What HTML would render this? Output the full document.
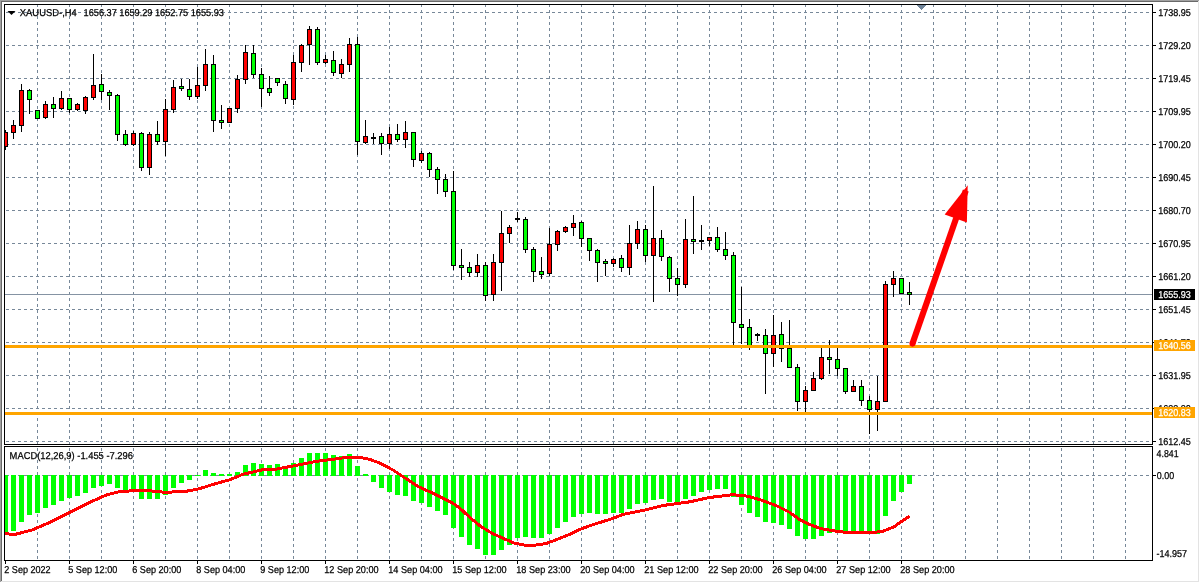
<!DOCTYPE html>
<html><head><meta charset="utf-8"><title>XAUUSD H4</title>
<style>html,body{margin:0;padding:0;background:#fff;overflow:hidden}svg{display:block}text{font-family:"Liberation Sans",sans-serif;font-size:10px;text-rendering:geometricPrecision;fill:#000;stroke:#000;stroke-width:.25px;white-space:pre}.c{shape-rendering:crispEdges}</style></head><body>
<svg width="1200" height="583" viewBox="0 0 1200 583">
<g class="c">
<rect x="0" y="0" width="1200" height="583" fill="#fff"/>
<rect x="0" y="0" width="1199" height="1" fill="#a0a0a0"/>
<rect x="0" y="0" width="1" height="582" fill="#a0a0a0"/>
<rect x="1" y="1" width="1197" height="1" fill="#696969"/>
<rect x="1" y="1" width="1" height="580" fill="#696969"/>
<rect x="1198" y="1" width="1" height="581" fill="#e3e3e3"/>
<rect x="1" y="581" width="1198" height="1" fill="#e3e3e3"/>
<line x1="37.5" y1="5" x2="37.5" y2="444" stroke="#778899" stroke-dasharray="3 3" stroke-dashoffset="1"/>
<line x1="37.5" y1="447" x2="37.5" y2="560" stroke="#778899" stroke-dasharray="3 3" stroke-dashoffset="5"/>
<line x1="69.5" y1="5" x2="69.5" y2="444" stroke="#778899" stroke-dasharray="3 3" stroke-dashoffset="1"/>
<line x1="69.5" y1="447" x2="69.5" y2="560" stroke="#778899" stroke-dasharray="3 3" stroke-dashoffset="5"/>
<line x1="101.5" y1="5" x2="101.5" y2="444" stroke="#778899" stroke-dasharray="3 3" stroke-dashoffset="1"/>
<line x1="101.5" y1="447" x2="101.5" y2="560" stroke="#778899" stroke-dasharray="3 3" stroke-dashoffset="5"/>
<line x1="133.5" y1="5" x2="133.5" y2="444" stroke="#778899" stroke-dasharray="3 3" stroke-dashoffset="1"/>
<line x1="133.5" y1="447" x2="133.5" y2="560" stroke="#778899" stroke-dasharray="3 3" stroke-dashoffset="5"/>
<line x1="165.5" y1="5" x2="165.5" y2="444" stroke="#778899" stroke-dasharray="3 3" stroke-dashoffset="1"/>
<line x1="165.5" y1="447" x2="165.5" y2="560" stroke="#778899" stroke-dasharray="3 3" stroke-dashoffset="5"/>
<line x1="197.5" y1="5" x2="197.5" y2="444" stroke="#778899" stroke-dasharray="3 3" stroke-dashoffset="1"/>
<line x1="197.5" y1="447" x2="197.5" y2="560" stroke="#778899" stroke-dasharray="3 3" stroke-dashoffset="5"/>
<line x1="229.5" y1="5" x2="229.5" y2="444" stroke="#778899" stroke-dasharray="3 3" stroke-dashoffset="1"/>
<line x1="229.5" y1="447" x2="229.5" y2="560" stroke="#778899" stroke-dasharray="3 3" stroke-dashoffset="5"/>
<line x1="261.5" y1="5" x2="261.5" y2="444" stroke="#778899" stroke-dasharray="3 3" stroke-dashoffset="1"/>
<line x1="261.5" y1="447" x2="261.5" y2="560" stroke="#778899" stroke-dasharray="3 3" stroke-dashoffset="5"/>
<line x1="293.5" y1="5" x2="293.5" y2="444" stroke="#778899" stroke-dasharray="3 3" stroke-dashoffset="1"/>
<line x1="293.5" y1="447" x2="293.5" y2="560" stroke="#778899" stroke-dasharray="3 3" stroke-dashoffset="5"/>
<line x1="325.5" y1="5" x2="325.5" y2="444" stroke="#778899" stroke-dasharray="3 3" stroke-dashoffset="1"/>
<line x1="325.5" y1="447" x2="325.5" y2="560" stroke="#778899" stroke-dasharray="3 3" stroke-dashoffset="5"/>
<line x1="357.5" y1="5" x2="357.5" y2="444" stroke="#778899" stroke-dasharray="3 3" stroke-dashoffset="1"/>
<line x1="357.5" y1="447" x2="357.5" y2="560" stroke="#778899" stroke-dasharray="3 3" stroke-dashoffset="5"/>
<line x1="389.5" y1="5" x2="389.5" y2="444" stroke="#778899" stroke-dasharray="3 3" stroke-dashoffset="1"/>
<line x1="389.5" y1="447" x2="389.5" y2="560" stroke="#778899" stroke-dasharray="3 3" stroke-dashoffset="5"/>
<line x1="421.5" y1="5" x2="421.5" y2="444" stroke="#778899" stroke-dasharray="3 3" stroke-dashoffset="1"/>
<line x1="421.5" y1="447" x2="421.5" y2="560" stroke="#778899" stroke-dasharray="3 3" stroke-dashoffset="5"/>
<line x1="453.5" y1="5" x2="453.5" y2="444" stroke="#778899" stroke-dasharray="3 3" stroke-dashoffset="1"/>
<line x1="453.5" y1="447" x2="453.5" y2="560" stroke="#778899" stroke-dasharray="3 3" stroke-dashoffset="5"/>
<line x1="485.5" y1="5" x2="485.5" y2="444" stroke="#778899" stroke-dasharray="3 3" stroke-dashoffset="1"/>
<line x1="485.5" y1="447" x2="485.5" y2="560" stroke="#778899" stroke-dasharray="3 3" stroke-dashoffset="5"/>
<line x1="517.5" y1="5" x2="517.5" y2="444" stroke="#778899" stroke-dasharray="3 3" stroke-dashoffset="1"/>
<line x1="517.5" y1="447" x2="517.5" y2="560" stroke="#778899" stroke-dasharray="3 3" stroke-dashoffset="5"/>
<line x1="549.5" y1="5" x2="549.5" y2="444" stroke="#778899" stroke-dasharray="3 3" stroke-dashoffset="1"/>
<line x1="549.5" y1="447" x2="549.5" y2="560" stroke="#778899" stroke-dasharray="3 3" stroke-dashoffset="5"/>
<line x1="581.5" y1="5" x2="581.5" y2="444" stroke="#778899" stroke-dasharray="3 3" stroke-dashoffset="1"/>
<line x1="581.5" y1="447" x2="581.5" y2="560" stroke="#778899" stroke-dasharray="3 3" stroke-dashoffset="5"/>
<line x1="613.5" y1="5" x2="613.5" y2="444" stroke="#778899" stroke-dasharray="3 3" stroke-dashoffset="1"/>
<line x1="613.5" y1="447" x2="613.5" y2="560" stroke="#778899" stroke-dasharray="3 3" stroke-dashoffset="5"/>
<line x1="645.5" y1="5" x2="645.5" y2="444" stroke="#778899" stroke-dasharray="3 3" stroke-dashoffset="1"/>
<line x1="645.5" y1="447" x2="645.5" y2="560" stroke="#778899" stroke-dasharray="3 3" stroke-dashoffset="5"/>
<line x1="677.5" y1="5" x2="677.5" y2="444" stroke="#778899" stroke-dasharray="3 3" stroke-dashoffset="1"/>
<line x1="677.5" y1="447" x2="677.5" y2="560" stroke="#778899" stroke-dasharray="3 3" stroke-dashoffset="5"/>
<line x1="709.5" y1="5" x2="709.5" y2="444" stroke="#778899" stroke-dasharray="3 3" stroke-dashoffset="1"/>
<line x1="709.5" y1="447" x2="709.5" y2="560" stroke="#778899" stroke-dasharray="3 3" stroke-dashoffset="5"/>
<line x1="741.5" y1="5" x2="741.5" y2="444" stroke="#778899" stroke-dasharray="3 3" stroke-dashoffset="1"/>
<line x1="741.5" y1="447" x2="741.5" y2="560" stroke="#778899" stroke-dasharray="3 3" stroke-dashoffset="5"/>
<line x1="773.5" y1="5" x2="773.5" y2="444" stroke="#778899" stroke-dasharray="3 3" stroke-dashoffset="1"/>
<line x1="773.5" y1="447" x2="773.5" y2="560" stroke="#778899" stroke-dasharray="3 3" stroke-dashoffset="5"/>
<line x1="805.5" y1="5" x2="805.5" y2="444" stroke="#778899" stroke-dasharray="3 3" stroke-dashoffset="1"/>
<line x1="805.5" y1="447" x2="805.5" y2="560" stroke="#778899" stroke-dasharray="3 3" stroke-dashoffset="5"/>
<line x1="837.5" y1="5" x2="837.5" y2="444" stroke="#778899" stroke-dasharray="3 3" stroke-dashoffset="1"/>
<line x1="837.5" y1="447" x2="837.5" y2="560" stroke="#778899" stroke-dasharray="3 3" stroke-dashoffset="5"/>
<line x1="869.5" y1="5" x2="869.5" y2="444" stroke="#778899" stroke-dasharray="3 3" stroke-dashoffset="1"/>
<line x1="869.5" y1="447" x2="869.5" y2="560" stroke="#778899" stroke-dasharray="3 3" stroke-dashoffset="5"/>
<line x1="901.5" y1="5" x2="901.5" y2="444" stroke="#778899" stroke-dasharray="3 3" stroke-dashoffset="1"/>
<line x1="901.5" y1="447" x2="901.5" y2="560" stroke="#778899" stroke-dasharray="3 3" stroke-dashoffset="5"/>
<line x1="933.5" y1="5" x2="933.5" y2="444" stroke="#778899" stroke-dasharray="3 3" stroke-dashoffset="1"/>
<line x1="933.5" y1="447" x2="933.5" y2="560" stroke="#778899" stroke-dasharray="3 3" stroke-dashoffset="5"/>
<line x1="965.5" y1="5" x2="965.5" y2="444" stroke="#778899" stroke-dasharray="3 3" stroke-dashoffset="1"/>
<line x1="965.5" y1="447" x2="965.5" y2="560" stroke="#778899" stroke-dasharray="3 3" stroke-dashoffset="5"/>
<line x1="997.5" y1="5" x2="997.5" y2="444" stroke="#778899" stroke-dasharray="3 3" stroke-dashoffset="1"/>
<line x1="997.5" y1="447" x2="997.5" y2="560" stroke="#778899" stroke-dasharray="3 3" stroke-dashoffset="5"/>
<line x1="1029.5" y1="5" x2="1029.5" y2="444" stroke="#778899" stroke-dasharray="3 3" stroke-dashoffset="1"/>
<line x1="1029.5" y1="447" x2="1029.5" y2="560" stroke="#778899" stroke-dasharray="3 3" stroke-dashoffset="5"/>
<line x1="1061.5" y1="5" x2="1061.5" y2="444" stroke="#778899" stroke-dasharray="3 3" stroke-dashoffset="1"/>
<line x1="1061.5" y1="447" x2="1061.5" y2="560" stroke="#778899" stroke-dasharray="3 3" stroke-dashoffset="5"/>
<line x1="1093.5" y1="5" x2="1093.5" y2="444" stroke="#778899" stroke-dasharray="3 3" stroke-dashoffset="1"/>
<line x1="1093.5" y1="447" x2="1093.5" y2="560" stroke="#778899" stroke-dasharray="3 3" stroke-dashoffset="5"/>
<line x1="1125.5" y1="5" x2="1125.5" y2="444" stroke="#778899" stroke-dasharray="3 3" stroke-dashoffset="1"/>
<line x1="1125.5" y1="447" x2="1125.5" y2="560" stroke="#778899" stroke-dasharray="3 3" stroke-dashoffset="5"/>
<line x1="5" y1="12.5" x2="1150" y2="12.5" stroke="#778899" stroke-dasharray="3 3" stroke-dashoffset="5"/>
<line x1="5" y1="45.5" x2="1150" y2="45.5" stroke="#778899" stroke-dasharray="3 3" stroke-dashoffset="5"/>
<line x1="5" y1="78.5" x2="1150" y2="78.5" stroke="#778899" stroke-dasharray="3 3" stroke-dashoffset="5"/>
<line x1="5" y1="111.5" x2="1150" y2="111.5" stroke="#778899" stroke-dasharray="3 3" stroke-dashoffset="5"/>
<line x1="5" y1="144.5" x2="1150" y2="144.5" stroke="#778899" stroke-dasharray="3 3" stroke-dashoffset="5"/>
<line x1="5" y1="177.5" x2="1150" y2="177.5" stroke="#778899" stroke-dasharray="3 3" stroke-dashoffset="5"/>
<line x1="5" y1="210.5" x2="1150" y2="210.5" stroke="#778899" stroke-dasharray="3 3" stroke-dashoffset="5"/>
<line x1="5" y1="243.5" x2="1150" y2="243.5" stroke="#778899" stroke-dasharray="3 3" stroke-dashoffset="5"/>
<line x1="5" y1="276.5" x2="1150" y2="276.5" stroke="#778899" stroke-dasharray="3 3" stroke-dashoffset="5"/>
<line x1="5" y1="309.5" x2="1150" y2="309.5" stroke="#778899" stroke-dasharray="3 3" stroke-dashoffset="5"/>
<line x1="5" y1="342.5" x2="1150" y2="342.5" stroke="#778899" stroke-dasharray="3 3" stroke-dashoffset="5"/>
<line x1="5" y1="375.5" x2="1150" y2="375.5" stroke="#778899" stroke-dasharray="3 3" stroke-dashoffset="5"/>
<line x1="5" y1="408.5" x2="1150" y2="408.5" stroke="#778899" stroke-dasharray="3 3" stroke-dashoffset="5"/>
<line x1="5" y1="441.5" x2="1150" y2="441.5" stroke="#778899" stroke-dasharray="3 3" stroke-dashoffset="5"/>
<line x1="5" y1="475.5" x2="1150" y2="475.5" stroke="#778899" stroke-dasharray="3 3" stroke-dashoffset="5"/>
<rect x="5" y="294" width="1147" height="1" fill="#8593a3"/>
</g>
<g class="c">
<rect x="5" y="130" width="1" height="20" fill="#000"/>
<rect x="3" y="132" width="5" height="15" fill="#000"/>
<rect x="4" y="133" width="3" height="13" fill="#ff0000"/>
<rect x="13" y="120" width="1" height="19" fill="#000"/>
<rect x="11" y="125" width="5" height="8" fill="#000"/>
<rect x="12" y="126" width="3" height="6" fill="#ff0000"/>
<rect x="21" y="84" width="1" height="48" fill="#000"/>
<rect x="19" y="90" width="5" height="36" fill="#000"/>
<rect x="20" y="91" width="3" height="34" fill="#ff0000"/>
<rect x="29" y="89" width="1" height="25" fill="#000"/>
<rect x="27" y="90" width="5" height="10" fill="#000"/>
<rect x="28" y="91" width="3" height="8" fill="#00ff00"/>
<rect x="37" y="110" width="1" height="9" fill="#000"/>
<rect x="35" y="110" width="5" height="9" fill="#000"/>
<rect x="36" y="111" width="3" height="7" fill="#00ff00"/>
<rect x="45" y="101" width="1" height="18" fill="#000"/>
<rect x="43" y="104" width="5" height="14" fill="#000"/>
<rect x="44" y="105" width="3" height="12" fill="#ff0000"/>
<rect x="53" y="97" width="1" height="21" fill="#000"/>
<rect x="51" y="104" width="5" height="5" fill="#000"/>
<rect x="52" y="105" width="3" height="3" fill="#00ff00"/>
<rect x="61" y="91" width="1" height="19" fill="#000"/>
<rect x="59" y="98" width="5" height="11" fill="#000"/>
<rect x="60" y="99" width="3" height="9" fill="#ff0000"/>
<rect x="69" y="98" width="1" height="15" fill="#000"/>
<rect x="67" y="98" width="5" height="12" fill="#000"/>
<rect x="68" y="99" width="3" height="10" fill="#00ff00"/>
<rect x="77" y="103" width="1" height="8" fill="#000"/>
<rect x="75" y="104" width="5" height="6" fill="#000"/>
<rect x="76" y="105" width="3" height="4" fill="#ff0000"/>
<rect x="85" y="96" width="1" height="18" fill="#000"/>
<rect x="83" y="97" width="5" height="14" fill="#000"/>
<rect x="84" y="98" width="3" height="12" fill="#ff0000"/>
<rect x="93" y="54" width="1" height="46" fill="#000"/>
<rect x="91" y="85" width="5" height="13" fill="#000"/>
<rect x="92" y="86" width="3" height="11" fill="#ff0000"/>
<rect x="101" y="74" width="1" height="26" fill="#000"/>
<rect x="99" y="84" width="5" height="8" fill="#000"/>
<rect x="100" y="85" width="3" height="6" fill="#00ff00"/>
<rect x="109" y="90" width="1" height="20" fill="#000"/>
<rect x="107" y="92" width="5" height="4" fill="#000"/>
<rect x="108" y="93" width="3" height="2" fill="#00ff00"/>
<rect x="117" y="94" width="1" height="47" fill="#000"/>
<rect x="115" y="95" width="5" height="40" fill="#000"/>
<rect x="116" y="96" width="3" height="38" fill="#00ff00"/>
<rect x="125" y="130" width="1" height="16" fill="#000"/>
<rect x="123" y="134" width="5" height="11" fill="#000"/>
<rect x="124" y="135" width="3" height="9" fill="#00ff00"/>
<rect x="133" y="131" width="1" height="15" fill="#000"/>
<rect x="131" y="133" width="5" height="12" fill="#000"/>
<rect x="132" y="134" width="3" height="10" fill="#ff0000"/>
<rect x="141" y="132" width="1" height="39" fill="#000"/>
<rect x="139" y="133" width="5" height="35" fill="#000"/>
<rect x="140" y="134" width="3" height="33" fill="#00ff00"/>
<rect x="149" y="132" width="1" height="43" fill="#000"/>
<rect x="147" y="134" width="5" height="34" fill="#000"/>
<rect x="148" y="135" width="3" height="32" fill="#ff0000"/>
<rect x="157" y="121" width="1" height="24" fill="#000"/>
<rect x="155" y="134" width="5" height="8" fill="#000"/>
<rect x="156" y="135" width="3" height="6" fill="#00ff00"/>
<rect x="165" y="99" width="1" height="57" fill="#000"/>
<rect x="163" y="109" width="5" height="33" fill="#000"/>
<rect x="164" y="110" width="3" height="31" fill="#ff0000"/>
<rect x="173" y="80" width="1" height="33" fill="#000"/>
<rect x="171" y="87" width="5" height="23" fill="#000"/>
<rect x="172" y="88" width="3" height="21" fill="#ff0000"/>
<rect x="181" y="79" width="1" height="12" fill="#000"/>
<rect x="179" y="86" width="5" height="3" fill="#000"/>
<rect x="180" y="87" width="3" height="1" fill="#00ff00"/>
<rect x="189" y="79" width="1" height="21" fill="#000"/>
<rect x="187" y="89" width="5" height="8" fill="#000"/>
<rect x="188" y="90" width="3" height="6" fill="#00ff00"/>
<rect x="197" y="67" width="1" height="32" fill="#000"/>
<rect x="195" y="85" width="5" height="12" fill="#000"/>
<rect x="196" y="86" width="3" height="10" fill="#ff0000"/>
<rect x="205" y="49" width="1" height="42" fill="#000"/>
<rect x="203" y="64" width="5" height="22" fill="#000"/>
<rect x="204" y="65" width="3" height="20" fill="#ff0000"/>
<rect x="213" y="55" width="1" height="77" fill="#000"/>
<rect x="211" y="64" width="5" height="57" fill="#000"/>
<rect x="212" y="65" width="3" height="55" fill="#00ff00"/>
<rect x="221" y="105" width="1" height="24" fill="#000"/>
<rect x="219" y="120" width="5" height="3" fill="#000"/>
<rect x="220" y="121" width="3" height="1" fill="#00ff00"/>
<rect x="229" y="108" width="1" height="15" fill="#000"/>
<rect x="227" y="108" width="5" height="15" fill="#000"/>
<rect x="228" y="109" width="3" height="13" fill="#ff0000"/>
<rect x="237" y="75" width="1" height="38" fill="#000"/>
<rect x="235" y="79" width="5" height="30" fill="#000"/>
<rect x="236" y="80" width="3" height="28" fill="#ff0000"/>
<rect x="245" y="45" width="1" height="39" fill="#000"/>
<rect x="243" y="52" width="5" height="28" fill="#000"/>
<rect x="244" y="53" width="3" height="26" fill="#ff0000"/>
<rect x="253" y="45" width="1" height="33" fill="#000"/>
<rect x="251" y="53" width="5" height="22" fill="#000"/>
<rect x="252" y="54" width="3" height="20" fill="#00ff00"/>
<rect x="261" y="68" width="1" height="39" fill="#000"/>
<rect x="259" y="74" width="5" height="15" fill="#000"/>
<rect x="260" y="75" width="3" height="13" fill="#00ff00"/>
<rect x="269" y="76" width="1" height="20" fill="#000"/>
<rect x="267" y="88" width="5" height="5" fill="#000"/>
<rect x="268" y="89" width="3" height="3" fill="#00ff00"/>
<rect x="277" y="78" width="1" height="8" fill="#000"/>
<rect x="275" y="78" width="5" height="5" fill="#000"/>
<rect x="276" y="79" width="3" height="3" fill="#00ff00"/>
<rect x="285" y="81" width="1" height="23" fill="#000"/>
<rect x="283" y="84" width="5" height="15" fill="#000"/>
<rect x="284" y="85" width="3" height="13" fill="#00ff00"/>
<rect x="293" y="55" width="1" height="50" fill="#000"/>
<rect x="291" y="62" width="5" height="38" fill="#000"/>
<rect x="292" y="63" width="3" height="36" fill="#ff0000"/>
<rect x="301" y="44" width="1" height="28" fill="#000"/>
<rect x="299" y="45" width="5" height="18" fill="#000"/>
<rect x="300" y="46" width="3" height="16" fill="#ff0000"/>
<rect x="309" y="26" width="1" height="39" fill="#000"/>
<rect x="307" y="29" width="5" height="16" fill="#000"/>
<rect x="308" y="30" width="3" height="14" fill="#ff0000"/>
<rect x="317" y="27" width="1" height="38" fill="#000"/>
<rect x="315" y="29" width="5" height="34" fill="#000"/>
<rect x="316" y="30" width="3" height="32" fill="#00ff00"/>
<rect x="325" y="55" width="1" height="9" fill="#000"/>
<rect x="323" y="59" width="5" height="4" fill="#000"/>
<rect x="324" y="60" width="3" height="2" fill="#ff0000"/>
<rect x="333" y="51" width="1" height="25" fill="#000"/>
<rect x="331" y="60" width="5" height="13" fill="#000"/>
<rect x="332" y="61" width="3" height="11" fill="#00ff00"/>
<rect x="341" y="59" width="1" height="19" fill="#000"/>
<rect x="339" y="64" width="5" height="10" fill="#000"/>
<rect x="340" y="65" width="3" height="8" fill="#ff0000"/>
<rect x="349" y="38" width="1" height="34" fill="#000"/>
<rect x="347" y="44" width="5" height="21" fill="#000"/>
<rect x="348" y="45" width="3" height="19" fill="#ff0000"/>
<rect x="357" y="37" width="1" height="118" fill="#000"/>
<rect x="355" y="44" width="5" height="98" fill="#000"/>
<rect x="356" y="45" width="3" height="96" fill="#00ff00"/>
<rect x="365" y="120" width="1" height="24" fill="#000"/>
<rect x="363" y="136" width="5" height="7" fill="#000"/>
<rect x="364" y="137" width="3" height="5" fill="#ff0000"/>
<rect x="373" y="133" width="1" height="11" fill="#000"/>
<rect x="371" y="137" width="5" height="2" fill="#000"/>
<rect x="381" y="133" width="1" height="22" fill="#000"/>
<rect x="379" y="136" width="5" height="8" fill="#000"/>
<rect x="380" y="137" width="3" height="6" fill="#00ff00"/>
<rect x="389" y="127" width="1" height="22" fill="#000"/>
<rect x="387" y="134" width="5" height="10" fill="#000"/>
<rect x="388" y="135" width="3" height="8" fill="#ff0000"/>
<rect x="397" y="124" width="1" height="18" fill="#000"/>
<rect x="395" y="134" width="5" height="6" fill="#000"/>
<rect x="396" y="135" width="3" height="4" fill="#00ff00"/>
<rect x="405" y="121" width="1" height="27" fill="#000"/>
<rect x="403" y="132" width="5" height="8" fill="#000"/>
<rect x="404" y="133" width="3" height="6" fill="#ff0000"/>
<rect x="413" y="132" width="1" height="35" fill="#000"/>
<rect x="411" y="132" width="5" height="28" fill="#000"/>
<rect x="412" y="133" width="3" height="26" fill="#00ff00"/>
<rect x="421" y="151" width="1" height="12" fill="#000"/>
<rect x="419" y="153" width="5" height="8" fill="#000"/>
<rect x="420" y="154" width="3" height="6" fill="#ff0000"/>
<rect x="429" y="152" width="1" height="25" fill="#000"/>
<rect x="427" y="153" width="5" height="17" fill="#000"/>
<rect x="428" y="154" width="3" height="15" fill="#00ff00"/>
<rect x="437" y="167" width="1" height="27" fill="#000"/>
<rect x="435" y="169" width="5" height="11" fill="#000"/>
<rect x="436" y="170" width="3" height="9" fill="#00ff00"/>
<rect x="445" y="174" width="1" height="23" fill="#000"/>
<rect x="443" y="179" width="5" height="13" fill="#000"/>
<rect x="444" y="180" width="3" height="11" fill="#00ff00"/>
<rect x="453" y="171" width="1" height="99" fill="#000"/>
<rect x="451" y="191" width="5" height="75" fill="#000"/>
<rect x="452" y="192" width="3" height="73" fill="#00ff00"/>
<rect x="461" y="249" width="1" height="31" fill="#000"/>
<rect x="459" y="265" width="5" height="3" fill="#000"/>
<rect x="460" y="266" width="3" height="1" fill="#00ff00"/>
<rect x="469" y="262" width="1" height="15" fill="#000"/>
<rect x="467" y="267" width="5" height="6" fill="#000"/>
<rect x="468" y="268" width="3" height="4" fill="#00ff00"/>
<rect x="477" y="254" width="1" height="23" fill="#000"/>
<rect x="475" y="265" width="5" height="8" fill="#000"/>
<rect x="476" y="266" width="3" height="6" fill="#ff0000"/>
<rect x="485" y="262" width="1" height="39" fill="#000"/>
<rect x="483" y="265" width="5" height="31" fill="#000"/>
<rect x="484" y="266" width="3" height="29" fill="#00ff00"/>
<rect x="493" y="254" width="1" height="47" fill="#000"/>
<rect x="491" y="262" width="5" height="33" fill="#000"/>
<rect x="492" y="263" width="3" height="31" fill="#ff0000"/>
<rect x="501" y="211" width="1" height="80" fill="#000"/>
<rect x="499" y="233" width="5" height="30" fill="#000"/>
<rect x="500" y="234" width="3" height="28" fill="#ff0000"/>
<rect x="509" y="225" width="1" height="18" fill="#000"/>
<rect x="507" y="227" width="5" height="7" fill="#000"/>
<rect x="508" y="228" width="3" height="5" fill="#ff0000"/>
<rect x="517" y="212" width="1" height="10" fill="#000"/>
<rect x="515" y="218" width="5" height="2" fill="#000"/>
<rect x="525" y="217" width="1" height="36" fill="#000"/>
<rect x="523" y="219" width="5" height="31" fill="#000"/>
<rect x="524" y="220" width="3" height="29" fill="#00ff00"/>
<rect x="533" y="247" width="1" height="35" fill="#000"/>
<rect x="531" y="249" width="5" height="23" fill="#000"/>
<rect x="532" y="250" width="3" height="21" fill="#00ff00"/>
<rect x="541" y="257" width="1" height="22" fill="#000"/>
<rect x="539" y="271" width="5" height="4" fill="#000"/>
<rect x="540" y="272" width="3" height="2" fill="#00ff00"/>
<rect x="549" y="228" width="1" height="48" fill="#000"/>
<rect x="547" y="244" width="5" height="30" fill="#000"/>
<rect x="548" y="245" width="3" height="28" fill="#ff0000"/>
<rect x="557" y="230" width="1" height="21" fill="#000"/>
<rect x="555" y="231" width="5" height="14" fill="#000"/>
<rect x="556" y="232" width="3" height="12" fill="#ff0000"/>
<rect x="565" y="226" width="1" height="7" fill="#000"/>
<rect x="563" y="227" width="5" height="5" fill="#000"/>
<rect x="564" y="228" width="3" height="3" fill="#ff0000"/>
<rect x="573" y="215" width="1" height="21" fill="#000"/>
<rect x="571" y="223" width="5" height="5" fill="#000"/>
<rect x="572" y="224" width="3" height="3" fill="#ff0000"/>
<rect x="581" y="221" width="1" height="26" fill="#000"/>
<rect x="579" y="222" width="5" height="17" fill="#000"/>
<rect x="580" y="223" width="3" height="15" fill="#00ff00"/>
<rect x="589" y="238" width="1" height="23" fill="#000"/>
<rect x="587" y="238" width="5" height="13" fill="#000"/>
<rect x="588" y="239" width="3" height="11" fill="#00ff00"/>
<rect x="597" y="249" width="1" height="33" fill="#000"/>
<rect x="595" y="250" width="5" height="13" fill="#000"/>
<rect x="596" y="251" width="3" height="11" fill="#00ff00"/>
<rect x="605" y="259" width="1" height="17" fill="#000"/>
<rect x="603" y="261" width="5" height="3" fill="#000"/>
<rect x="604" y="262" width="3" height="1" fill="#00ff00"/>
<rect x="613" y="258" width="1" height="9" fill="#000"/>
<rect x="611" y="259" width="5" height="5" fill="#000"/>
<rect x="612" y="260" width="3" height="3" fill="#ff0000"/>
<rect x="621" y="255" width="1" height="17" fill="#000"/>
<rect x="619" y="258" width="5" height="10" fill="#000"/>
<rect x="620" y="259" width="3" height="8" fill="#00ff00"/>
<rect x="629" y="225" width="1" height="50" fill="#000"/>
<rect x="627" y="243" width="5" height="25" fill="#000"/>
<rect x="628" y="244" width="3" height="23" fill="#ff0000"/>
<rect x="637" y="221" width="1" height="28" fill="#000"/>
<rect x="635" y="229" width="5" height="15" fill="#000"/>
<rect x="636" y="230" width="3" height="13" fill="#ff0000"/>
<rect x="645" y="225" width="1" height="37" fill="#000"/>
<rect x="643" y="229" width="5" height="27" fill="#000"/>
<rect x="644" y="230" width="3" height="25" fill="#00ff00"/>
<rect x="653" y="186" width="1" height="116" fill="#000"/>
<rect x="651" y="238" width="5" height="18" fill="#000"/>
<rect x="652" y="239" width="3" height="16" fill="#ff0000"/>
<rect x="661" y="230" width="1" height="31" fill="#000"/>
<rect x="659" y="238" width="5" height="19" fill="#000"/>
<rect x="660" y="239" width="3" height="17" fill="#00ff00"/>
<rect x="669" y="256" width="1" height="36" fill="#000"/>
<rect x="667" y="257" width="5" height="22" fill="#000"/>
<rect x="668" y="258" width="3" height="20" fill="#00ff00"/>
<rect x="677" y="268" width="1" height="28" fill="#000"/>
<rect x="675" y="278" width="5" height="7" fill="#000"/>
<rect x="676" y="279" width="3" height="5" fill="#00ff00"/>
<rect x="685" y="219" width="1" height="69" fill="#000"/>
<rect x="683" y="239" width="5" height="46" fill="#000"/>
<rect x="684" y="240" width="3" height="44" fill="#ff0000"/>
<rect x="693" y="196" width="1" height="58" fill="#000"/>
<rect x="691" y="239" width="5" height="3" fill="#000"/>
<rect x="692" y="240" width="3" height="1" fill="#00ff00"/>
<rect x="701" y="225" width="1" height="25" fill="#000"/>
<rect x="699" y="240" width="5" height="2" fill="#000"/>
<rect x="709" y="237" width="1" height="9" fill="#000"/>
<rect x="707" y="237" width="5" height="4" fill="#000"/>
<rect x="708" y="238" width="3" height="2" fill="#ff0000"/>
<rect x="717" y="227" width="1" height="25" fill="#000"/>
<rect x="715" y="237" width="5" height="13" fill="#000"/>
<rect x="716" y="238" width="3" height="11" fill="#00ff00"/>
<rect x="725" y="232" width="1" height="28" fill="#000"/>
<rect x="723" y="249" width="5" height="7" fill="#000"/>
<rect x="724" y="250" width="3" height="5" fill="#00ff00"/>
<rect x="733" y="252" width="1" height="94" fill="#000"/>
<rect x="731" y="255" width="5" height="68" fill="#000"/>
<rect x="732" y="256" width="3" height="66" fill="#00ff00"/>
<rect x="741" y="287" width="1" height="57" fill="#000"/>
<rect x="739" y="324" width="5" height="4" fill="#000"/>
<rect x="740" y="325" width="3" height="2" fill="#00ff00"/>
<rect x="749" y="319" width="1" height="31" fill="#000"/>
<rect x="747" y="327" width="5" height="19" fill="#000"/>
<rect x="748" y="328" width="3" height="17" fill="#00ff00"/>
<rect x="757" y="333" width="1" height="8" fill="#000"/>
<rect x="755" y="334" width="5" height="2" fill="#000"/>
<rect x="765" y="329" width="1" height="65" fill="#000"/>
<rect x="763" y="335" width="5" height="19" fill="#000"/>
<rect x="764" y="336" width="3" height="17" fill="#00ff00"/>
<rect x="773" y="315" width="1" height="52" fill="#000"/>
<rect x="771" y="335" width="5" height="19" fill="#000"/>
<rect x="772" y="336" width="3" height="17" fill="#ff0000"/>
<rect x="781" y="322" width="1" height="40" fill="#000"/>
<rect x="779" y="334" width="5" height="15" fill="#000"/>
<rect x="780" y="335" width="3" height="13" fill="#00ff00"/>
<rect x="789" y="320" width="1" height="48" fill="#000"/>
<rect x="787" y="348" width="5" height="20" fill="#000"/>
<rect x="788" y="349" width="3" height="18" fill="#00ff00"/>
<rect x="797" y="364" width="1" height="47" fill="#000"/>
<rect x="795" y="367" width="5" height="35" fill="#000"/>
<rect x="796" y="368" width="3" height="33" fill="#00ff00"/>
<rect x="805" y="386" width="1" height="26" fill="#000"/>
<rect x="803" y="390" width="5" height="12" fill="#000"/>
<rect x="804" y="391" width="3" height="10" fill="#ff0000"/>
<rect x="813" y="372" width="1" height="19" fill="#000"/>
<rect x="811" y="378" width="5" height="13" fill="#000"/>
<rect x="812" y="379" width="3" height="11" fill="#ff0000"/>
<rect x="821" y="348" width="1" height="32" fill="#000"/>
<rect x="819" y="357" width="5" height="22" fill="#000"/>
<rect x="820" y="358" width="3" height="20" fill="#ff0000"/>
<rect x="829" y="340" width="1" height="34" fill="#000"/>
<rect x="827" y="357" width="5" height="3" fill="#000"/>
<rect x="828" y="358" width="3" height="1" fill="#00ff00"/>
<rect x="837" y="348" width="1" height="28" fill="#000"/>
<rect x="835" y="359" width="5" height="10" fill="#000"/>
<rect x="836" y="360" width="3" height="8" fill="#00ff00"/>
<rect x="845" y="368" width="1" height="26" fill="#000"/>
<rect x="843" y="368" width="5" height="24" fill="#000"/>
<rect x="844" y="369" width="3" height="22" fill="#00ff00"/>
<rect x="853" y="380" width="1" height="12" fill="#000"/>
<rect x="851" y="386" width="5" height="6" fill="#000"/>
<rect x="852" y="387" width="3" height="4" fill="#ff0000"/>
<rect x="861" y="380" width="1" height="26" fill="#000"/>
<rect x="859" y="386" width="5" height="15" fill="#000"/>
<rect x="860" y="387" width="3" height="13" fill="#00ff00"/>
<rect x="869" y="396" width="1" height="38" fill="#000"/>
<rect x="867" y="400" width="5" height="10" fill="#000"/>
<rect x="868" y="401" width="3" height="8" fill="#00ff00"/>
<rect x="877" y="376" width="1" height="55" fill="#000"/>
<rect x="875" y="401" width="5" height="9" fill="#000"/>
<rect x="876" y="402" width="3" height="7" fill="#ff0000"/>
<rect x="885" y="281" width="1" height="121" fill="#000"/>
<rect x="883" y="284" width="5" height="118" fill="#000"/>
<rect x="884" y="285" width="3" height="116" fill="#ff0000"/>
<rect x="893" y="271" width="1" height="26" fill="#000"/>
<rect x="891" y="278" width="5" height="7" fill="#000"/>
<rect x="892" y="279" width="3" height="5" fill="#ff0000"/>
<rect x="901" y="278" width="1" height="16" fill="#000"/>
<rect x="899" y="278" width="5" height="16" fill="#000"/>
<rect x="900" y="279" width="3" height="14" fill="#00ff00"/>
<rect x="909" y="282" width="1" height="23" fill="#000"/>
<rect x="907" y="292" width="5" height="3" fill="#000"/>
<rect x="908" y="293" width="3" height="1" fill="#00ff00"/>
</g>
<g class="c">
<rect x="3" y="475" width="5" height="58" fill="#00ff00"/>
<rect x="11" y="475" width="5" height="56" fill="#00ff00"/>
<rect x="19" y="475" width="5" height="47" fill="#00ff00"/>
<rect x="27" y="475" width="5" height="40" fill="#00ff00"/>
<rect x="35" y="475" width="5" height="38" fill="#00ff00"/>
<rect x="43" y="475" width="5" height="33" fill="#00ff00"/>
<rect x="51" y="475" width="5" height="30" fill="#00ff00"/>
<rect x="59" y="475" width="5" height="26" fill="#00ff00"/>
<rect x="67" y="475" width="5" height="23" fill="#00ff00"/>
<rect x="75" y="475" width="5" height="21" fill="#00ff00"/>
<rect x="83" y="475" width="5" height="18" fill="#00ff00"/>
<rect x="91" y="475" width="5" height="13" fill="#00ff00"/>
<rect x="99" y="475" width="5" height="11" fill="#00ff00"/>
<rect x="107" y="475" width="5" height="9" fill="#00ff00"/>
<rect x="115" y="475" width="5" height="13" fill="#00ff00"/>
<rect x="123" y="475" width="5" height="16" fill="#00ff00"/>
<rect x="131" y="475" width="5" height="17" fill="#00ff00"/>
<rect x="139" y="475" width="5" height="24" fill="#00ff00"/>
<rect x="147" y="475" width="5" height="24" fill="#00ff00"/>
<rect x="155" y="475" width="5" height="24" fill="#00ff00"/>
<rect x="163" y="475" width="5" height="20" fill="#00ff00"/>
<rect x="171" y="475" width="5" height="13" fill="#00ff00"/>
<rect x="179" y="475" width="5" height="8" fill="#00ff00"/>
<rect x="187" y="475" width="5" height="5" fill="#00ff00"/>
<rect x="195" y="475" width="5" height="1" fill="#00ff00"/>
<rect x="203" y="470" width="5" height="6" fill="#00ff00"/>
<rect x="211" y="473" width="5" height="3" fill="#00ff00"/>
<rect x="219" y="474" width="5" height="2" fill="#00ff00"/>
<rect x="227" y="474" width="5" height="2" fill="#00ff00"/>
<rect x="235" y="472" width="5" height="4" fill="#00ff00"/>
<rect x="243" y="465" width="5" height="11" fill="#00ff00"/>
<rect x="251" y="463" width="5" height="13" fill="#00ff00"/>
<rect x="259" y="464" width="5" height="12" fill="#00ff00"/>
<rect x="267" y="465" width="5" height="11" fill="#00ff00"/>
<rect x="275" y="464" width="5" height="12" fill="#00ff00"/>
<rect x="283" y="466" width="5" height="10" fill="#00ff00"/>
<rect x="291" y="463" width="5" height="13" fill="#00ff00"/>
<rect x="299" y="458" width="5" height="18" fill="#00ff00"/>
<rect x="307" y="453" width="5" height="23" fill="#00ff00"/>
<rect x="315" y="453" width="5" height="23" fill="#00ff00"/>
<rect x="323" y="453" width="5" height="23" fill="#00ff00"/>
<rect x="331" y="455" width="5" height="21" fill="#00ff00"/>
<rect x="339" y="456" width="5" height="20" fill="#00ff00"/>
<rect x="347" y="454" width="5" height="22" fill="#00ff00"/>
<rect x="355" y="466" width="5" height="10" fill="#00ff00"/>
<rect x="363" y="474" width="5" height="2" fill="#00ff00"/>
<rect x="371" y="475" width="5" height="7" fill="#00ff00"/>
<rect x="379" y="475" width="5" height="13" fill="#00ff00"/>
<rect x="387" y="475" width="5" height="17" fill="#00ff00"/>
<rect x="395" y="475" width="5" height="20" fill="#00ff00"/>
<rect x="403" y="475" width="5" height="21" fill="#00ff00"/>
<rect x="411" y="475" width="5" height="26" fill="#00ff00"/>
<rect x="419" y="475" width="5" height="28" fill="#00ff00"/>
<rect x="427" y="475" width="5" height="32" fill="#00ff00"/>
<rect x="435" y="475" width="5" height="36" fill="#00ff00"/>
<rect x="443" y="475" width="5" height="40" fill="#00ff00"/>
<rect x="451" y="475" width="5" height="53" fill="#00ff00"/>
<rect x="459" y="475" width="5" height="62" fill="#00ff00"/>
<rect x="467" y="475" width="5" height="70" fill="#00ff00"/>
<rect x="475" y="475" width="5" height="74" fill="#00ff00"/>
<rect x="483" y="475" width="5" height="80" fill="#00ff00"/>
<rect x="491" y="475" width="5" height="80" fill="#00ff00"/>
<rect x="499" y="475" width="5" height="75" fill="#00ff00"/>
<rect x="507" y="475" width="5" height="70" fill="#00ff00"/>
<rect x="515" y="475" width="5" height="63" fill="#00ff00"/>
<rect x="523" y="475" width="5" height="62" fill="#00ff00"/>
<rect x="531" y="475" width="5" height="63" fill="#00ff00"/>
<rect x="539" y="475" width="5" height="63" fill="#00ff00"/>
<rect x="547" y="475" width="5" height="59" fill="#00ff00"/>
<rect x="555" y="475" width="5" height="53" fill="#00ff00"/>
<rect x="563" y="475" width="5" height="47" fill="#00ff00"/>
<rect x="571" y="475" width="5" height="42" fill="#00ff00"/>
<rect x="579" y="475" width="5" height="39" fill="#00ff00"/>
<rect x="587" y="475" width="5" height="38" fill="#00ff00"/>
<rect x="595" y="475" width="5" height="39" fill="#00ff00"/>
<rect x="603" y="475" width="5" height="39" fill="#00ff00"/>
<rect x="611" y="475" width="5" height="38" fill="#00ff00"/>
<rect x="619" y="475" width="5" height="38" fill="#00ff00"/>
<rect x="627" y="475" width="5" height="34" fill="#00ff00"/>
<rect x="635" y="475" width="5" height="29" fill="#00ff00"/>
<rect x="643" y="475" width="5" height="28" fill="#00ff00"/>
<rect x="651" y="475" width="5" height="25" fill="#00ff00"/>
<rect x="659" y="475" width="5" height="24" fill="#00ff00"/>
<rect x="667" y="475" width="5" height="27" fill="#00ff00"/>
<rect x="675" y="475" width="5" height="28" fill="#00ff00"/>
<rect x="683" y="475" width="5" height="24" fill="#00ff00"/>
<rect x="691" y="475" width="5" height="21" fill="#00ff00"/>
<rect x="699" y="475" width="5" height="17" fill="#00ff00"/>
<rect x="707" y="475" width="5" height="15" fill="#00ff00"/>
<rect x="715" y="475" width="5" height="14" fill="#00ff00"/>
<rect x="723" y="475" width="5" height="14" fill="#00ff00"/>
<rect x="731" y="475" width="5" height="22" fill="#00ff00"/>
<rect x="739" y="475" width="5" height="30" fill="#00ff00"/>
<rect x="747" y="475" width="5" height="38" fill="#00ff00"/>
<rect x="755" y="475" width="5" height="42" fill="#00ff00"/>
<rect x="763" y="475" width="5" height="47" fill="#00ff00"/>
<rect x="771" y="475" width="5" height="48" fill="#00ff00"/>
<rect x="779" y="475" width="5" height="50" fill="#00ff00"/>
<rect x="787" y="475" width="5" height="54" fill="#00ff00"/>
<rect x="795" y="475" width="5" height="61" fill="#00ff00"/>
<rect x="803" y="475" width="5" height="64" fill="#00ff00"/>
<rect x="811" y="475" width="5" height="64" fill="#00ff00"/>
<rect x="819" y="475" width="5" height="61" fill="#00ff00"/>
<rect x="827" y="475" width="5" height="58" fill="#00ff00"/>
<rect x="835" y="475" width="5" height="56" fill="#00ff00"/>
<rect x="843" y="475" width="5" height="56" fill="#00ff00"/>
<rect x="851" y="475" width="5" height="56" fill="#00ff00"/>
<rect x="859" y="475" width="5" height="57" fill="#00ff00"/>
<rect x="867" y="475" width="5" height="59" fill="#00ff00"/>
<rect x="875" y="475" width="5" height="59" fill="#00ff00"/>
<rect x="883" y="475" width="5" height="41" fill="#00ff00"/>
<rect x="891" y="475" width="5" height="26" fill="#00ff00"/>
<rect x="899" y="475" width="5" height="17" fill="#00ff00"/>
<rect x="907" y="475" width="5" height="9" fill="#00ff00"/>
</g>
<polyline points="5,533.7 15,534.4 32,530 49.3,522.6 70.8,511.8 90,502.2 107,494.7 120,491.5 133,490.8 150,490.8 163,492.1 182.3,491.9 197.3,489.3 214.5,484 230,479.7 242.9,474.3 261.5,470 277.2,469 294.3,465.7 315.8,461.4 333,459.3 348,457.2 358.7,457.2 369.4,459.3 380.1,463.2 393,470 405.9,478.6 418.7,486.8 433.8,493.6 453,503.3 460,508.2 470.7,518.3 481.4,526.9 492.2,533.3 502.9,538.2 513.6,542.9 524.3,545.1 535.1,545.1 545.8,543.6 556.5,539.7 567.2,535.4 582.3,528.4 597.3,523.2 610.1,519.4 623,514.4 644.4,510.1 663.7,505.4 678.8,503.3 690,501.8 709.3,497.5 732.9,494.7 747.9,496.2 760.8,500 775.8,505.4 788.7,511.8 799.4,519.4 810.1,524.7 820.8,528.6 835.8,531.2 850.9,532.9 870.2,532.9 883,531.2 893.8,526.9 904.5,519.4 909.8,516.1" fill="none" stroke="#ff0000" stroke-width="3" stroke-linejoin="round" shape-rendering="crispEdges"/>
<g class="c">
<rect x="5" y="345" width="1147" height="3" fill="#ffa500"/>
<rect x="5" y="412" width="1147" height="3" fill="#ffa500"/>
</g>
<line x1="912.5" y1="343.6" x2="965.8" y2="190.6" stroke="#ff0000" stroke-width="6.1"/>
<circle cx="912.5" cy="343.6" r="3.05" fill="#ff0000"/>
<polygon points="967.7,185.2 944.7,214.4 966.9,222.6" fill="#ff0000"/>
<g class="c">
<rect x="2" y="2" width="2" height="578" fill="#fff"/>
<rect x="4" y="4" width="1149" height="1" fill="#000"/>
<rect x="4" y="4" width="1" height="557" fill="#000"/>
<rect x="1152" y="4" width="1" height="557" fill="#000"/>
<rect x="4" y="444" width="1149" height="1" fill="#000"/>
<rect x="4" y="445" width="1149" height="1" fill="#fff"/>
<rect x="4" y="446" width="1149" height="1" fill="#000"/>
<rect x="4" y="560" width="1149" height="1" fill="#000"/>
<polygon points="916.6,5 926.4,5 921.5,9.9" fill="#708499"/>
<rect x="1153" y="12" width="3" height="1" fill="#000"/>
<rect x="1153" y="45" width="3" height="1" fill="#000"/>
<rect x="1153" y="78" width="3" height="1" fill="#000"/>
<rect x="1153" y="111" width="3" height="1" fill="#000"/>
<rect x="1153" y="144" width="3" height="1" fill="#000"/>
<rect x="1153" y="177" width="3" height="1" fill="#000"/>
<rect x="1153" y="210" width="3" height="1" fill="#000"/>
<rect x="1153" y="243" width="3" height="1" fill="#000"/>
<rect x="1153" y="276" width="3" height="1" fill="#000"/>
<rect x="1153" y="309" width="3" height="1" fill="#000"/>
<rect x="1153" y="342" width="3" height="1" fill="#000"/>
<rect x="1153" y="375" width="3" height="1" fill="#000"/>
<rect x="1153" y="408" width="3" height="1" fill="#000"/>
<rect x="1153" y="441" width="3" height="1" fill="#000"/>
<rect x="1153" y="475" width="3" height="1" fill="#000"/>
<rect x="5" y="561" width="1" height="3" fill="#000"/>
<rect x="69" y="561" width="1" height="3" fill="#000"/>
<rect x="133" y="561" width="1" height="3" fill="#000"/>
<rect x="197" y="561" width="1" height="3" fill="#000"/>
<rect x="261" y="561" width="1" height="3" fill="#000"/>
<rect x="325" y="561" width="1" height="3" fill="#000"/>
<rect x="389" y="561" width="1" height="3" fill="#000"/>
<rect x="453" y="561" width="1" height="3" fill="#000"/>
<rect x="517" y="561" width="1" height="3" fill="#000"/>
<rect x="581" y="561" width="1" height="3" fill="#000"/>
<rect x="645" y="561" width="1" height="3" fill="#000"/>
<rect x="709" y="561" width="1" height="3" fill="#000"/>
<rect x="773" y="561" width="1" height="3" fill="#000"/>
<rect x="837" y="561" width="1" height="3" fill="#000"/>
<rect x="901" y="561" width="1" height="3" fill="#000"/>
</g>
<text x="1158.2" y="16" textLength="32.6" lengthAdjust="spacingAndGlyphs" xml:space="preserve">1738.95</text>
<text x="1158.2" y="49" textLength="32.6" lengthAdjust="spacingAndGlyphs" xml:space="preserve">1729.20</text>
<text x="1158.2" y="82" textLength="32.6" lengthAdjust="spacingAndGlyphs" xml:space="preserve">1719.45</text>
<text x="1158.2" y="115" textLength="32.6" lengthAdjust="spacingAndGlyphs" xml:space="preserve">1709.95</text>
<text x="1158.2" y="148" textLength="32.6" lengthAdjust="spacingAndGlyphs" xml:space="preserve">1700.20</text>
<text x="1158.2" y="181" textLength="32.6" lengthAdjust="spacingAndGlyphs" xml:space="preserve">1690.45</text>
<text x="1158.2" y="214" textLength="32.6" lengthAdjust="spacingAndGlyphs" xml:space="preserve">1680.70</text>
<text x="1158.2" y="247" textLength="32.6" lengthAdjust="spacingAndGlyphs" xml:space="preserve">1670.95</text>
<text x="1158.2" y="280" textLength="32.6" lengthAdjust="spacingAndGlyphs" xml:space="preserve">1661.20</text>
<text x="1158.2" y="313" textLength="32.6" lengthAdjust="spacingAndGlyphs" xml:space="preserve">1651.45</text>
<text x="1158.2" y="346" textLength="32.6" lengthAdjust="spacingAndGlyphs" xml:space="preserve">1641.70</text>
<text x="1158.2" y="379" textLength="32.6" lengthAdjust="spacingAndGlyphs" xml:space="preserve">1631.95</text>
<text x="1158.2" y="412" textLength="32.6" lengthAdjust="spacingAndGlyphs" xml:space="preserve">1622.20</text>
<text x="1158.2" y="445" textLength="32.6" lengthAdjust="spacingAndGlyphs" xml:space="preserve">1612.45</text>
<g class="c"><rect x="1154" y="289" width="41" height="11" fill="#000"/><rect x="1154" y="340" width="41" height="11" fill="#ffa500"/><rect x="1154" y="407" width="41" height="11" fill="#ffa500"/></g>
<text x="1158.2" y="298" textLength="32.6" lengthAdjust="spacingAndGlyphs" style="fill:#fff;stroke:#fff" xml:space="preserve">1655.93</text>
<text x="1158.2" y="349" textLength="32.6" lengthAdjust="spacingAndGlyphs" style="fill:#fff;stroke:#fff" xml:space="preserve">1640.56</text>
<text x="1158.2" y="416" textLength="32.6" lengthAdjust="spacingAndGlyphs" style="fill:#fff;stroke:#fff" xml:space="preserve">1620.83</text>
<text x="1156.6" y="457" textLength="22" lengthAdjust="spacingAndGlyphs" xml:space="preserve">4.841</text>
<text x="1156.8" y="479" textLength="17.3" lengthAdjust="spacingAndGlyphs" xml:space="preserve">0.00</text>
<text x="1156.5" y="557" textLength="30.5" lengthAdjust="spacingAndGlyphs" xml:space="preserve">-14.957</text>
<polygon points="7.5,11 15.5,11 11.5,15" fill="#000"/>
<text x="19.8" y="16" textLength="57" lengthAdjust="spacingAndGlyphs" xml:space="preserve">XAUUSD-,H4</text>
<text x="83.6" y="16" textLength="140.3" lengthAdjust="spacingAndGlyphs" xml:space="preserve">1656.37 1659.29 1652.75 1655.93</text>
<text x="9.6" y="459" textLength="123.4" lengthAdjust="spacingAndGlyphs" xml:space="preserve">MACD(12,26,9) -1.455 -7.296</text>
<text x="4.3" y="573" textLength="46.3" lengthAdjust="spacingAndGlyphs" xml:space="preserve">2 Sep 2022</text>
<text x="68.3" y="573" textLength="49" lengthAdjust="spacingAndGlyphs" xml:space="preserve">5 Sep 12:00</text>
<text x="132.3" y="573" textLength="49" lengthAdjust="spacingAndGlyphs" xml:space="preserve">6 Sep 20:00</text>
<text x="196.3" y="573" textLength="49" lengthAdjust="spacingAndGlyphs" xml:space="preserve">8 Sep 04:00</text>
<text x="260.3" y="573" textLength="49" lengthAdjust="spacingAndGlyphs" xml:space="preserve">9 Sep 12:00</text>
<text x="324.3" y="573" textLength="54.3" lengthAdjust="spacingAndGlyphs" xml:space="preserve">12 Sep 20:00</text>
<text x="388.3" y="573" textLength="54.3" lengthAdjust="spacingAndGlyphs" xml:space="preserve">14 Sep 04:00</text>
<text x="452.3" y="573" textLength="54.3" lengthAdjust="spacingAndGlyphs" xml:space="preserve">15 Sep 12:00</text>
<text x="516.3" y="573" textLength="54.3" lengthAdjust="spacingAndGlyphs" xml:space="preserve">18 Sep 23:00</text>
<text x="580.3" y="573" textLength="54.3" lengthAdjust="spacingAndGlyphs" xml:space="preserve">20 Sep 04:00</text>
<text x="644.3" y="573" textLength="54.3" lengthAdjust="spacingAndGlyphs" xml:space="preserve">21 Sep 12:00</text>
<text x="708.3" y="573" textLength="54.3" lengthAdjust="spacingAndGlyphs" xml:space="preserve">22 Sep 20:00</text>
<text x="772.3" y="573" textLength="54.3" lengthAdjust="spacingAndGlyphs" xml:space="preserve">26 Sep 04:00</text>
<text x="836.3" y="573" textLength="54.3" lengthAdjust="spacingAndGlyphs" xml:space="preserve">27 Sep 12:00</text>
<text x="900.3" y="573" textLength="54.3" lengthAdjust="spacingAndGlyphs" xml:space="preserve">28 Sep 20:00</text>
</svg></body></html>
